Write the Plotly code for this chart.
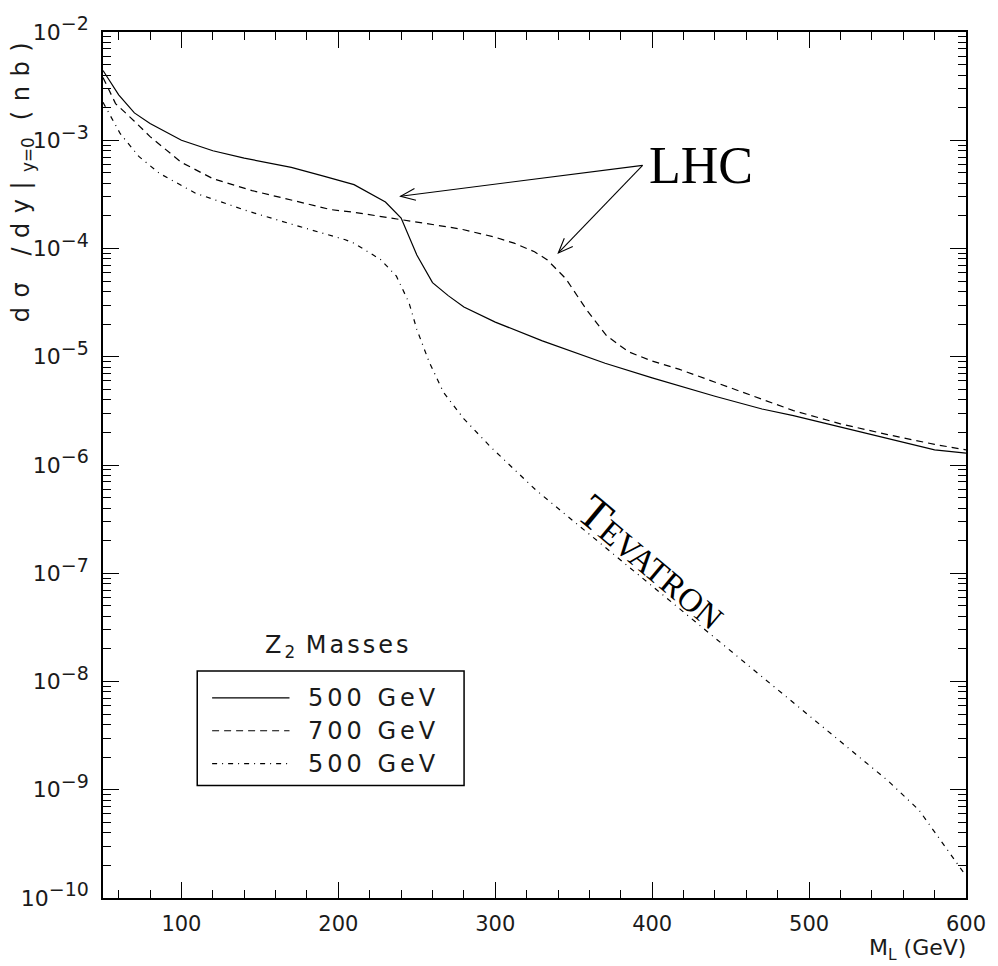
import math
import plotly.graph_objects as go

# Invariant-mass distributions d(sigma)/dy at y=0 versus M_L
m_lhc_500 = [50, 60, 70, 80, 100, 120, 140, 170, 190, 210, 230, 240, 250, 260,
             270, 280, 300, 330, 370, 400, 440, 470, 490, 520, 550, 580, 600]
xs_lhc_500 = [4.41e-3, 2.63e-3, 1.79e-3, 1.43e-3, 1.0e-3, 8.0e-4, 6.84e-4, 5.62e-4,
              4.68e-4, 3.89e-4, 2.69e-4, 1.91e-4, 8.71e-5, 4.84e-5, 3.67e-5, 2.88e-5,
              2.09e-5, 1.40e-5, 8.71e-6, 6.38e-6, 4.32e-6, 3.29e-6, 2.86e-6, 2.24e-6,
              1.74e-6, 1.38e-6, 1.29e-6]

m_lhc_700 = [50, 58, 70, 80, 100, 120, 145, 170, 195, 210, 240, 270, 280, 300, 312,
             325, 333, 345, 358, 371, 385, 400, 417, 450, 490, 520, 550, 580, 600]
xs_lhc_700 = [3.80e-3, 2.18e-3, 1.50e-3, 1.08e-3, 6.24e-4, 4.42e-4, 3.43e-4, 2.79e-4,
              2.29e-4, 2.16e-4, 1.86e-4, 1.58e-4, 1.49e-4, 1.27e-4, 1.12e-4, 9.33e-5,
              7.89e-5, 5.25e-5, 2.74e-5, 1.56e-5, 1.11e-5, 9.12e-6, 7.69e-6, 5.13e-6,
              3.18e-6, 2.40e-6, 1.91e-6, 1.55e-6, 1.38e-6]

m_tev_500 = [50, 61, 73, 86, 109, 143, 175, 204, 210, 227, 237, 245, 250, 258, 267,
             280, 297, 326, 360, 400, 440, 480, 520, 550, 570, 585, 600]
xs_tev_500 = [2.24e-3, 1.15e-3, 7.05e-4, 4.94e-4, 3.24e-4, 2.20e-4, 1.60e-4, 1.21e-4,
              1.12e-4, 7.89e-5, 5.55e-5, 3.16e-5, 1.79e-5, 8.85e-6, 4.69e-6, 2.67e-6,
              1.47e-6, 5.85e-7, 2.29e-7, 7.59e-8, 2.53e-8, 8.41e-9, 2.79e-9, 1.22e-9,
              6.5e-10, 3.2e-10, 1.6e-10]

decades = list(range(-10, -1))
decade_labels = [f"10<sup><span style='font-size:19px'>\u2212{abs(d)}</span></sup>"
                 for d in decades]

legend_title = "Z<sub>2</sub> Masses"
legend_labels = ["500 GeV", "700 GeV", "500 GeV"]

W, H = 998, 966
L, R, T, B = 103, 25, 28, 68
PW, PH = W - L - R, H - T - B

SANS = "DejaVu Sans ExtraLight, DejaVu Sans, sans-serif"
SERIF = "Liberation Serif, Times New Roman, serif"
INK = "#1a1a1a"


def px(x, y):
    """Pixel position -> paper coordinates."""
    return (x - L) / PW, (H - B - y) / PH


def spaced(s, sp):
    return f"<span style='letter-spacing:{sp}px'>{s}</span>"


styles = [
    dict(color="black", width=1.2, dash="solid"),
    dict(color="black", width=1.2, dash="7px,5px"),
    dict(color="black", width=1.2, dash="5px,5px,1px,5px"),
]

fig = go.Figure()
for xs, ys, st in [(m_lhc_500, xs_lhc_500, styles[0]),
                   (m_lhc_700, xs_lhc_700, styles[1]),
                   (m_tev_500, xs_tev_500, styles[2])]:
    fig.add_trace(go.Scatter(x=xs, y=ys, mode="lines", line=st,
                             showlegend=False, hoverinfo="skip"))

shapes = []
annotations = []

# LHC label with open arrows pointing at the two LHC curves
tail = (647, 162)
for head in [(403, 193), (562, 250)]:
    x0, y0 = px(*tail)
    x1, y1 = px(*head)
    shapes.append(dict(type="line", xref="paper", yref="paper",
                       x0=x0, y0=y0, x1=x1, y1=y1,
                       line=dict(color="black", width=1.1)))
    dx, dy = head[0] - tail[0], head[1] - tail[1]
    base = math.atan2(dy, dx)
    size, half = 16, 0.38
    pts = [(head[0] - size * math.cos(base + s * half),
            head[1] - size * math.sin(base + s * half)) for s in (1, -1)]
    a = px(*pts[0]); h = px(*head); b = px(*pts[1])
    shapes.append(dict(type="path", xref="paper", yref="paper",
                       path=f"M {a[0]},{a[1]} L {h[0]},{h[1]} L {b[0]},{b[1]}",
                       line=dict(color="black", width=1.1)))

lx, ly = px(706, 162)
annotations.append(dict(xref="paper", yref="paper", x=lx, y=ly, text="LHC",
                        showarrow=False, font=dict(family=SERIF, size=52, color="black"),
                        xanchor="center", yanchor="middle"))

tx, ty = px(658, 560)
annotations.append(dict(xref="paper", yref="paper", x=tx, y=ty,
                        text="T<span style='font-size:33px'>EVATRON</span>",
                        textangle=40, showarrow=False,
                        font=dict(family=SERIF, size=47, color="black"),
                        xanchor="center", yanchor="middle"))

# legend block
gx, gy = px(340, 645)
annotations.append(dict(xref="paper", yref="paper", x=gx, y=gy,
                        text=spaced("Z", 3) + "<sub>2</sub>" + spaced(" Masses", 3),
                        showarrow=False, font=dict(family=SANS, size=24, color=INK),
                        xanchor="center", yanchor="middle"))
bx0, by0 = px(198, 670)
bx1, by1 = px(467, 785)
shapes.append(dict(type="rect", xref="paper", yref="paper", x0=bx0, y0=by1, x1=bx1, y1=by0,
                   line=dict(color="black", width=1.5), fillcolor="white", layer="above"))
for i, (lab, st) in enumerate(zip(legend_labels, styles)):
    yrow = 697 + 33 * i
    a0 = px(213, yrow); a1 = px(291, yrow)
    shapes.append(dict(type="line", xref="paper", yref="paper", x0=a0[0], y0=a0[1],
                       x1=a1[0], y1=a1[1], line=st, layer="above"))
    t = px(308, yrow)
    annotations.append(dict(xref="paper", yref="paper", x=t[0], y=t[1],
                            text=spaced(lab, 4),
                            showarrow=False, font=dict(family=SANS, size=24, color=INK),
                            xanchor="left", yanchor="middle"))

# axis titles
ax_, ay_ = px(22, 27)
annotations.append(dict(xref="paper", yref="paper", x=ax_, y=ay_,
                        text=spaced("dσ /dy|", 9.5) + "<sub>y=0</sub>" + spaced(" (nb)", 9.5),
                        textangle=-90,
                        showarrow=False, font=dict(family=SANS, size=24, color=INK),
                        xanchor="center", yanchor="top"))
xx, xy = px(975, 950)
annotations.append(dict(xref="paper", yref="paper", x=xx, y=xy,
                        text="M<sub>L</sub> (GeV)", showarrow=False,
                        font=dict(family=SANS, size=22, color=INK),
                        xanchor="right", yanchor="middle"))

axis_common = dict(showline=True, linecolor="black", linewidth=1.5, mirror="allticks",
                   ticks="inside", ticklen=16, tickwidth=1.2, tickcolor="black",
                   showgrid=False, zeroline=False)

fig.update_layout(
    width=W, height=H,
    margin=dict(l=L, r=R, t=T, b=B),
    paper_bgcolor="white", plot_bgcolor="white",
    xaxis=dict(range=[50, 600], tickmode="linear", tick0=0, dtick=100,
               minor=dict(ticks="inside", ticklen=8, tickwidth=1.2, tickcolor="black",
                          tick0=0, dtick=20, showgrid=False),
               ticklabelstandoff=6,
               tickfont=dict(family=SANS, size=21, color=INK),
               **axis_common),
    yaxis=dict(type="log", range=[-10, -2],
               tickmode="array", tickvals=[10.0 ** d for d in decades],
               ticktext=decade_labels,
               minor=dict(ticks="inside", ticklen=8, tickwidth=1.2, tickcolor="black",
                          dtick="D1", showgrid=False),
               ticklabelstandoff=8,
               tickfont=dict(family=SANS, size=22, color=INK),
               **axis_common),
    shapes=shapes,
    annotations=annotations,
)

fig.write_html("out.html")
